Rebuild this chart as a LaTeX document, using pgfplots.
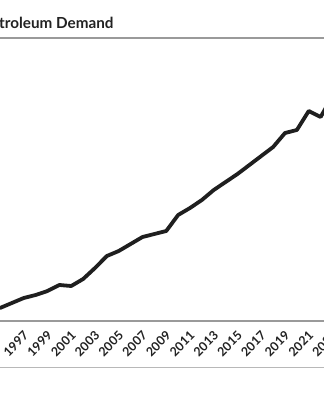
\documentclass[border=0pt]{standalone}
\usepackage{pgfplots}
\pgfplotsset{compat=1.18}
\usepackage{fontspec}
\setmainfont{Lato}
\definecolor{linec}{HTML}{1F1F1F}
\definecolor{rulec}{HTML}{9A9A9A}
\definecolor{textc}{HTML}{222222}
\begin{document}
\begin{tikzpicture}
\path[use as bounding box] (0,0) rectangle (324bp,400bp);
\begin{scope}
\clip (0,0) rectangle (324bp,400bp);
\begin{axis}[
  at={(0bp,79bp)}, anchor=south west,
  scale only axis, width=338.44bp, height=283bp,
  xmin=1995, xmax=2023.5, ymin=79, ymax=362,
  axis line style={draw=none},
  ytick=\empty,
  xtick={1997,1999,...,2023},
  xticklabels={1997,1999,2001,2003,2005,2007,2009,2011,2013,2015,2017,2019,2021,2023},
  major tick length=0pt,
  xticklabel style={xshift=-1bp, yshift=-9bp, rotate=45, anchor=north east, inner sep=0pt,
    font=\fontsize{12.5}{15}\selectfont\bfseries, text=textc},
  /pgf/number format/assume math mode=true,
]
\addplot[linec, line width=3.8bp, line join=round, line cap=round] coordinates {
(1995,92) (1996,97) (1997,102) (1998,105) (1999,109) (2000,115) (2001,114)
(2002,121) (2003,132) (2004,144) (2005,149) (2006,156) (2007,163) (2008,166)
(2009,169) (2010,185) (2011,192) (2012,200) (2013,210) (2014,218) (2015,226)
(2016,235) (2017,244) (2018,253) (2019,267) (2020,270) (2021,289) (2022,283)
(2023,304)
};
\end{axis}
\draw[rulec, line width=1.3bp] (0bp,362bp) -- (324bp,362bp);
\draw[rulec, line width=1.3bp] (0bp,79bp) -- (324bp,79bp);
\draw[rulec!70, line width=1bp] (0bp,32bp) -- (324bp,32bp);
\node[anchor=base west, inner sep=0pt, text=textc, font=\fontsize{15.3}{17}\selectfont\bfseries] at (-1bp,371bp) {troleum Demand};
\end{scope}
\end{tikzpicture}
\end{document}
